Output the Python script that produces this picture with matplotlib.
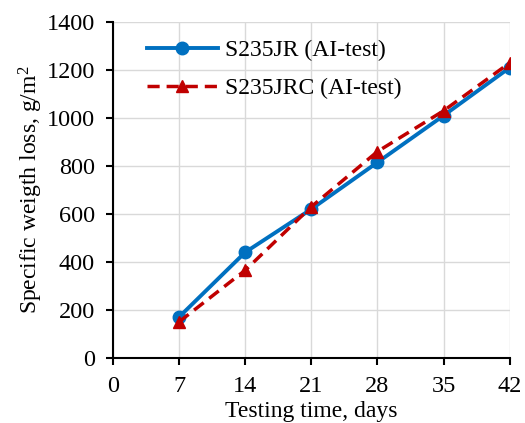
import numpy as np
import matplotlib.pyplot as plt

#%% Data
days = [7, 14, 21, 28, 35, 42]
s235jr = [170, 440, 620, 815, 1010, 1210]
s235jrc = [150, 365, 630, 860, 1030, 1230]

plt.rcParams['font.family'] = ['Liberation Serif', 'DejaVu Serif']
plt.rcParams['mathtext.fontset'] = 'custom'
plt.rcParams['mathtext.rm'] = 'Liberation Serif'

#%% Plot
fig = plt.figure(figsize=(5.25, 4.23), dpi=100)
ax = fig.add_axes([0.215, 0.154, 0.756, 0.794])

ax.plot(days, s235jr, color='#0070C0', lw=2.8, marker='o', ms=9, label='S235JR (AI-test)')
ax.plot(days, s235jrc, color='#C00000', lw=2.5, ls=(0, (3.5, 2)), marker='^', ms=9,
        label='S235JRC (AI-test)')

ax.set_xlim(0, 42)
ax.set_ylim(0, 1400)
ax.set_xticks(np.arange(0, 43, 7))
ax.set_yticks(np.arange(0, 1401, 200))
ax.grid(True, color='#D9D9D9', lw=1)
ax.set_axisbelow(True)
for s in ['top', 'right']:
    ax.spines[s].set_visible(False)
for s in ['left', 'bottom']:
    ax.spines[s].set_linewidth(1.5)
ax.tick_params(direction='out', length=5, width=1.5, labelsize=17.5)
ax.tick_params(axis='x', pad=8)
ax.tick_params(axis='y', pad=8)

ax.set_xlabel('Testing time, days', fontsize=17, labelpad=3)
ax.set_ylabel('Specific weigth loss, g/m$\\mathrm{^2}$', fontsize=17, labelpad=1)

ax.legend(loc='upper left', frameon=False, fontsize=17, handlelength=3.0,
          handletextpad=0.3, borderaxespad=0.2, bbox_to_anchor=(0.05, 0.99),
          labelspacing=0.7)

fig.savefig('out.png')
